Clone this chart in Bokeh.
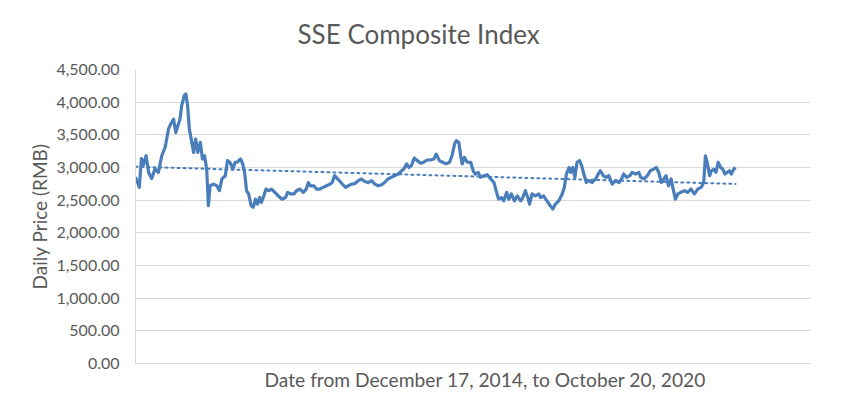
import numpy as np
from bokeh.plotting import figure
from bokeh.models import Range1d, FixedTicker, NumeralTickFormatter, ColumnDataSource, Title
from bokeh.embed import file_html
from bokeh.resources import INLINE

# trading-day index (0 = Dec 17, 2014) and daily close (RMB)
day = [0, 5, 9, 14, 18, 25, 31, 38, 46, 54, 62, 70, 78, 83, 90, 95, 100, 105, 109, 115,
       119, 123, 127, 133, 137, 142, 147, 153, 158, 163, 168, 172, 176, 184, 192, 198, 204,
       212, 217, 223, 230, 235, 240, 248, 253, 258, 262, 267, 273, 278, 283, 288, 293, 297,
       303, 308, 315, 321, 329, 337, 346, 354, 359, 366, 374, 380, 388, 396, 403, 408, 413,
       421, 427, 435, 443, 451, 459, 464, 470, 477, 481, 488, 496, 502, 510, 518, 526, 533,
       541, 549, 557, 565, 573, 581, 588, 596, 604, 612, 620, 628, 633, 640, 645, 651, 658,
       665, 673, 680, 688, 696, 704, 710, 717, 725, 733, 741, 747, 753, 757, 763, 768, 771,
       776, 783, 791, 797, 802, 809, 814, 822, 830, 838, 846, 851, 857, 864, 869, 876, 881,
       887, 894, 901, 909, 914, 920, 926, 930, 936, 944, 952, 956, 963, 971, 979, 985, 991,
       999, 1007, 1012, 1017, 1023, 1027, 1032, 1037, 1042, 1048, 1053, 1058, 1064, 1070,
       1078, 1086, 1092, 1097, 1104, 1111, 1117, 1125, 1133, 1141, 1147, 1152, 1159, 1167,
       1172, 1180, 1188, 1192, 1200, 1208, 1215, 1223, 1229, 1235, 1241, 1247, 1252, 1258,
       1264, 1269, 1274, 1280, 1287, 1296, 1303, 1311, 1319, 1327, 1335, 1341, 1345, 1349,
       1355, 1359, 1365, 1370, 1375, 1381, 1386, 1391, 1396, 1402, 1406, 1412, 1416]
price = [2850, 2770, 2695, 3135, 3030, 3180, 2925, 2830, 2980, 2925, 3180, 3310, 3590, 3665,
         3740, 3535, 3640, 3740, 3945, 4100, 4125, 3945, 3590, 3385, 3230, 3435, 3230, 3385,
         3130, 3180, 2975, 2415, 2720, 2745, 2720, 2645, 2825, 2875, 3105, 3080, 2975, 3080,
         3080, 3130, 3055, 2900, 2645, 2595, 2415, 2390, 2515, 2440, 2540, 2465, 2565, 2670,
         2645, 2670, 2620, 2565, 2515, 2540, 2620, 2595, 2595, 2645, 2670, 2620, 2670, 2770,
         2720, 2720, 2670, 2670, 2695, 2720, 2745, 2770, 2875, 2825, 2800, 2745, 2695, 2720,
         2745, 2755, 2800, 2825, 2785, 2770, 2800, 2745, 2720, 2735, 2770, 2825, 2850, 2875,
         2900, 2950, 2975, 3055, 3000, 3030, 3145, 3105, 3065, 3080, 3115, 3115, 3130, 3205,
         3105, 3080, 3055, 3080, 3180, 3360, 3410, 3385, 3155, 3055, 3155, 3080, 3080, 2950,
         2900, 2925, 2850, 2875, 2890, 2825, 2770, 2645, 2515, 2540, 2490, 2620, 2515, 2595,
         2490, 2565, 2490, 2540, 2645, 2540, 2440, 2595, 2565, 2595, 2540, 2565, 2490, 2415,
         2365, 2440, 2490, 2595, 2695, 2900, 3000, 2925, 3000, 2850, 3080, 3105, 3030, 2900,
         2770, 2800, 2770, 2825, 2900, 2950, 2875, 2850, 2875, 2745, 2800, 2770, 2825, 2900,
         2850, 2875, 2925, 2900, 2925, 2850, 2825, 2875, 2950, 2975, 3000, 2925, 2770, 2825,
         2875, 2720, 2825, 2670, 2515, 2595, 2620, 2645, 2620, 2670, 2595, 2670, 2695, 2770,
         3180, 3080, 2875, 2950, 2975, 2925, 3080, 3000, 2975, 2900, 2925, 2950, 2900, 2975,
         3000]

y_ticks = [0, 500, 1000, 1500, 2000, 2500, 3000, 3500, 4000, 4500]
x_start, x_end = 0, 1593
y_start, y_end = 0, 4500

title_text = "SSE Composite Index"
x_label = "Date from December 17, 2014, to October 20, 2020"
y_label = "Daily Price (RMB)"

# linear trendline (least squares), as in the spreadsheet
coef = np.polyfit(day, price, 1)
trend_x = [day[0], day[-1]]
trend_y = [float(np.polyval(coef, d)) for d in trend_x]

FONT = "Lato"
GREY = "#595959"
BLUE = "#4a7ebb"

p = figure(width=855, height=399, output_backend="svg", toolbar_location=None,
           x_range=Range1d(x_start, x_end), y_range=Range1d(y_start, y_end),
           min_border_left=135, min_border_right=45, min_border_top=69, min_border_bottom=36)
p.outline_line_color = None
p.background_fill_color = "white"
p.border_fill_color = "white"

p.title.text = title_text
p.title.text_font = FONT
p.title.text_font_size = "26px"
p.title.text_font_style = "normal"
p.title.text_color = GREY
p.title.align = "left"
p.title.vertical_align = "top"
p.title.offset = 162
p.title.standoff = 35

src = ColumnDataSource(dict(day=day, price=price))
p.line("day", "price", source=src, line_color=BLUE, line_width=3.2, line_join="round")
p.line(trend_x, trend_y, line_color=BLUE, line_width=2, line_dash="2 4", line_cap="round")

p.yaxis.ticker = FixedTicker(ticks=y_ticks)
p.yaxis.formatter = NumeralTickFormatter(format="0,0.00")
p.yaxis.major_tick_line_color = None
p.yaxis.minor_tick_line_color = None
p.yaxis.major_tick_out = 0
p.yaxis.major_label_standoff = 16
p.yaxis.major_label_text_font = FONT
p.yaxis.major_label_text_font_size = "16px"
p.yaxis.major_label_text_color = GREY
p.yaxis.axis_line_color = "#d9d9d9"
p.yaxis.axis_label = y_label
p.yaxis.axis_label_text_font = FONT
p.yaxis.axis_label_text_font_size = "19px"
p.yaxis.axis_label_text_font_style = "normal"
p.yaxis.axis_label_text_color = GREY
p.yaxis.axis_label_standoff = 2

p.xaxis.ticker = FixedTicker(ticks=[])
p.xaxis.major_tick_line_color = None
p.xaxis.minor_tick_line_color = None
p.xaxis.major_tick_out = 0
p.xaxis.major_label_text_font_size = "0px"
p.xaxis.major_label_standoff = 0
p.xaxis.axis_line_color = "#d9d9d9"

xt = Title(text=x_label, align="left", offset=129, standoff=4,
           text_font=FONT, text_font_size="19.2px", text_font_style="normal", text_color=GREY)
p.add_layout(xt, "below")

p.xgrid.grid_line_color = None
p.ygrid.grid_line_color = "#d9d9d9"
p.ygrid.grid_line_width = 1
p.ygrid.ticker = FixedTicker(ticks=y_ticks)

open("out.html", "w").write(file_html(p, INLINE))
